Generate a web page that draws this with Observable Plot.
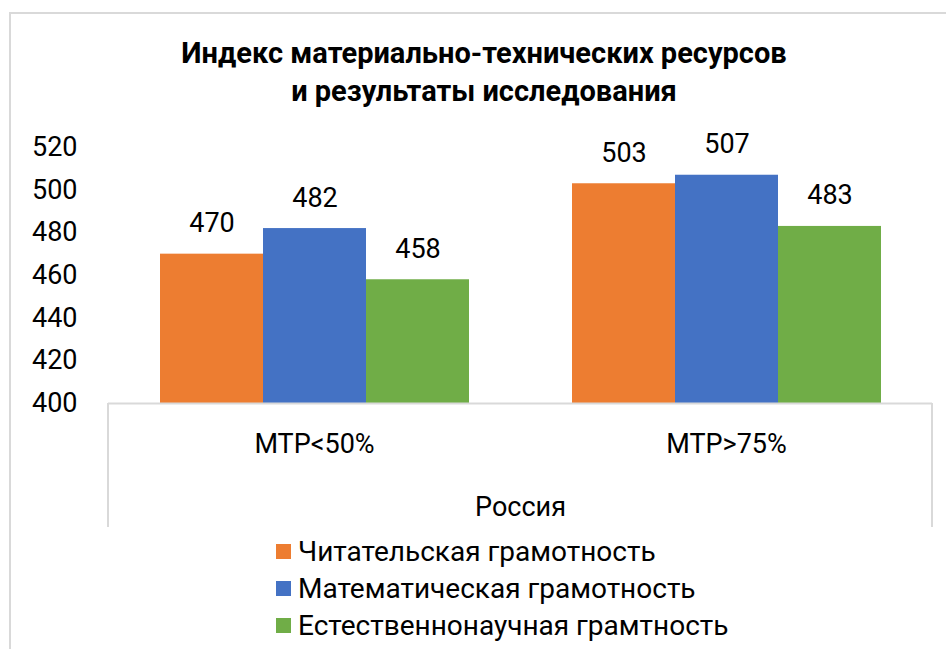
<!DOCTYPE html>
<html><head><meta charset="utf-8">
<script src="https://cdn.jsdelivr.net/npm/d3@7"></script>
<script src="https://cdn.jsdelivr.net/npm/@observablehq/plot@0.6"></script>
<style>
html,body{margin:0;padding:0;background:#fff;overflow:hidden;}
#wrap{position:relative;width:946px;height:649px;overflow:hidden;font-family:Roboto, sans-serif;color:#000;background:#fff;}
#border{position:absolute;left:9px;top:12px;width:1000px;height:1000px;border-left:2px solid #d9d9d9;border-top:2px solid #d9d9d9;}
#title{position:absolute;left:0;width:968px;top:34px;text-align:center;font-weight:bold;font-size:29px;line-height:38px;}
#chart{position:absolute;left:0;top:120px;}
#legend{position:absolute;left:276px;top:533px;}
.item{display:flex;align-items:center;height:37px;font-size:28px;white-space:nowrap;}
.sw{width:15px;height:15px;margin-right:7px;flex:none;}
</style></head><body>
<div id="wrap">
  <div id="border"></div>
  <div id="title"></div>
  <div id="chart"></div>
  <div id="legend"></div>
</div>
<script>
const titleLines = ["Индекс материально-технических ресурсов", "и результаты исследования"];
const categories = ["МТР<50%", "МТР>75%"];
const groupLabel = "Россия";
const series = ["Читательская грамотность", "Математическая грамотность", "Естественнонаучная грамтность"];
const reading = [470, 503];
const math = [482, 507];
const science = [458, 483];
const yTicks = [400, 420, 440, 460, 480, 500, 520];
const colors = ["#ED7D31", "#4472C4", "#70AD47"];

const seriesValues = [reading, math, science];
const rows = [];
categories.forEach((c, i) => {
  series.forEach((s, j) => rows.push({cat: c, series: s, value: seriesValues[j][i]}));
});

document.getElementById("title").innerHTML = titleLines.join("<br>");

const W = 946, H = 420, mL = 108, mR = 14, mT = 27, mB = 137;
const plot = Plot.plot({
  width: W, height: H,
  marginLeft: mL, marginRight: mR, marginTop: mT, marginBottom: mB,
  style: {fontFamily: "Roboto, sans-serif", fontSize: "25px", background: "transparent", color: "#000"},
  fx: {domain: categories, padding: 0, label: null},
  x: {domain: series, paddingInner: 0, paddingOuter: 0.5, axis: null},
  y: {domain: [yTicks[0], yTicks[yTicks.length - 1]]},
  color: {domain: series, range: colors},
  marks: [
    Plot.barY(rows, {fx: "cat", x: "series", y1: yTicks[0], y2: "value", fill: "series"}),
    Plot.text(rows, {fx: "cat", x: "series", y: "value", text: d => String(d.value), dy: -22, lineAnchor: "bottom", fontSize: 27, fill: "#000"}),
    Plot.ruleY([yTicks[0]], {stroke: "#d9d9d9", strokeWidth: 2}),
    Plot.axisY({ticks: yTicks, tickSize: 0, tickPadding: 31, label: null, fontSize: 27}),
    Plot.axisFx({anchor: "bottom", tickSize: 0, tickPadding: 30, label: groupLabel, labelAnchor: "center", labelOffset: 112, fontSize: 27})
  ]
});
document.getElementById("chart").appendChild(plot);

// box lines of the category axis
const y0 = plot.scale("y").apply(yTicks[0]);
const svg = d3.select(plot);
[mL, W - mR].forEach(x => {
  svg.append("line").attr("x1", x).attr("x2", x).attr("y1", y0).attr("y2", y0 + 124)
    .attr("stroke", "#d9d9d9").attr("stroke-width", 2);
});

const legend = d3.select("#legend");
series.forEach((s, i) => {
  const it = legend.append("div").attr("class", "item");
  it.append("div").attr("class", "sw").style("background", colors[i]);
  it.append("span").text(s);
});
</script>
</body></html>
